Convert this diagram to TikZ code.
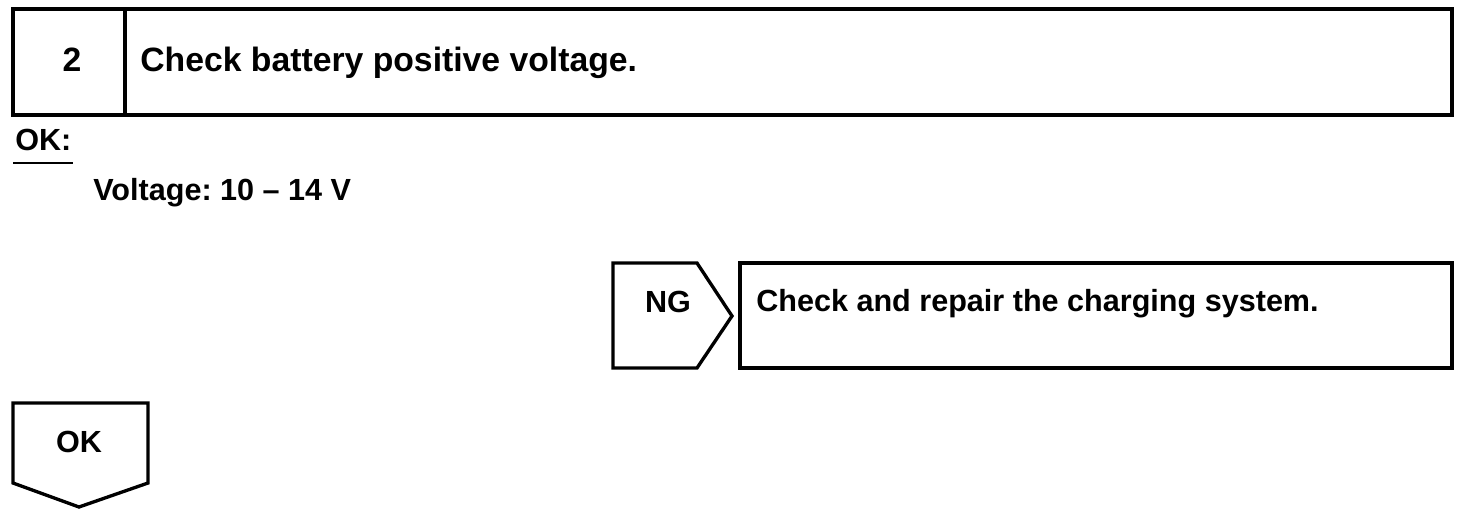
\documentclass[tikz,border=0pt]{standalone}
\usepackage{fontspec}
\setmainfont{Liberation Sans}
\usetikzlibrary{calc}
\frenchspacing

\begin{document}
\begin{tikzpicture}[x=0.02cm, y=-0.02cm,
    frame/.style={draw=black, line width=1.9pt, line join=miter},
    lbl/.style={inner sep=0pt, anchor=base west, font=\fontsize{17.4pt}{20pt}\selectfont\bfseries},
    headlbl/.style={lbl, font=\fontsize{19.2pt}{22pt}\selectfont\bfseries}]

    \useasboundingbox (0,0) rectangle (1472,518);

    % Step header
    \draw[frame] (13,9) rectangle (1452,115);
    \draw[frame] (125,9) -- (125,115);
    \node[headlbl, anchor=base] (stepno) at (72,71) {2};
    \node[headlbl] (steptitle) at (140,71) {Check battery positive voltage.};

    % Standard
    \node[lbl] (okhead) at (15,150) {OK:};
    \draw[line width=1.1pt] ($(okhead.base west)+(-2,13)$) -- ($(okhead.base east)+(1,13)$);
    \node[lbl] (volt) at (93,200) {Voltage: 10 -- 14 V};

    % NG branch
    \draw[frame] (613,263) -- (697,263) -- (732,316) -- (697,368) -- (613,368) -- cycle;
    \node[lbl, anchor=base] (ng) at (668,312) {NG};
    \draw[frame] (740,263) rectangle (1452,368);
    \node[lbl] (repair) at (756,311) {Check and repair the charging system.};

    % OK branch
    \draw[frame] (13,403) -- (148,403) -- (148,483) -- (79,507) -- (13,483) -- cycle;
    \node[lbl, anchor=base] (okbranch) at (79,452) {OK};
\end{tikzpicture}
\end{document}
